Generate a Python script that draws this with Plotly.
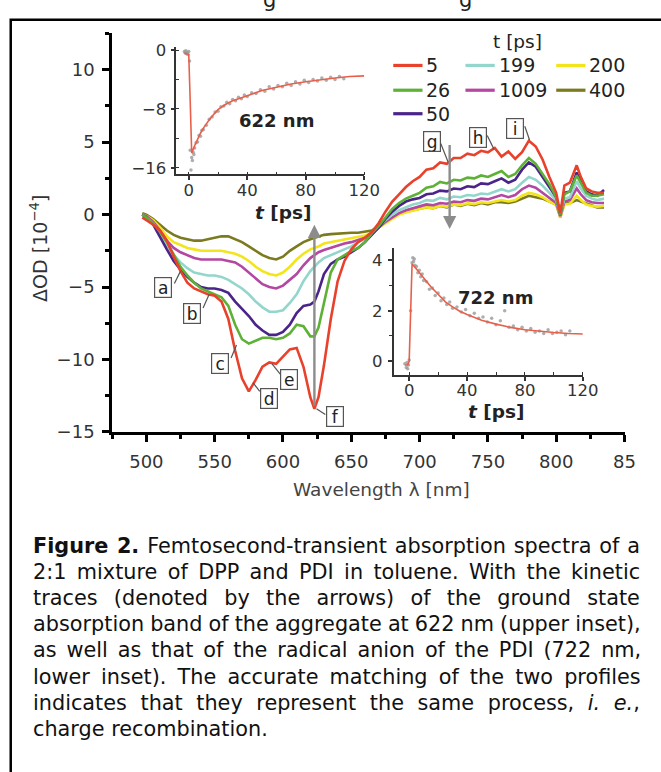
import plotly.graph_objects as go

W, H = 661, 772


def px(x):
    return x / W


def py(y):
    return 1 - y / H


# ---------------- data ----------------
wavelength = [497, 500, 505, 510, 515, 520, 525, 530, 535, 540,
              545, 550, 555, 560, 565, 570, 575, 580, 585, 590,
              595, 600, 605, 610, 615, 620, 623, 626, 630, 635,
              640, 645, 650, 655, 660, 665, 670, 675, 680, 685,
              690, 695, 700, 705, 710, 715, 720, 725, 730, 735,
              740, 745, 750, 755, 760, 765, 770, 775, 780, 785,
              790, 795, 800, 803, 806, 810, 815, 818, 822, 826,
              830, 835]

od_5ps = [-0.2, -0.4, -0.7, -1.1, -1.8, -2.9, -3.9, -4.7, -5.1, -5.3,
          -5.5, -5.6, -6.0, -7.2, -9.4, -11.3, -12.2, -11.4, -10.5, -10.2,
          -10.3, -9.8, -9.3, -9.2, -10.5, -12.6, -13.4, -12.6, -10.4, -7.2,
          -4.6, -3.2, -2.4, -1.9, -1.6, -1.2, -0.6, 0.2, 0.9, 1.4,
          1.9, 2.3, 2.6, 3.1, 3.2, 3.6, 3.5, 3.9, 3.9, 4.2,
          4.1, 4.4, 4.3, 4.6, 4.0, 4.35, 3.85, 4.3, 5.1, 4.7,
          3.8, 2.6, 1.5, 0.1, 2.0, 2.2, 3.4, 2.6, 1.8, 1.6,
          1.5, 1.5]

od_26ps = [0.0, -0.2, -0.6, -1.2, -1.9, -2.8, -3.6, -4.2, -4.7, -5.1,
           -5.3, -5.5, -5.7, -6.3, -7.6, -8.6, -8.9, -8.7, -8.5, -8.5,
           -8.6, -8.5, -8.2, -7.6, -7.7, -8.4, -8.4, -7.8, -6.2, -4.0,
           -3.1, -2.8, -2.5, -2.3, -1.9, -1.3, -0.8, -0.2, 0.4, 0.8,
           1.1, 1.3, 1.5, 1.85, 1.95, 2.25, 2.15, 2.4, 2.35, 2.55,
           2.5, 2.7, 2.6, 2.8, 3.0, 2.6, 2.8, 3.4, 3.9, 3.5,
           2.8, 2.1, 1.2, 0.0, 1.4, 1.6, 2.7, 2.2, 1.5, 1.3,
           1.3, 1.4]

od_50ps = [0.0, -0.2, -0.7, -1.6, -2.4, -3.2, -3.8, -4.3, -4.7, -5.0,
           -5.1, -5.1, -5.2, -5.4, -6.0, -6.5, -7.0, -7.6, -8.0, -8.3,
           -8.3, -8.1, -7.6, -6.8, -6.3, -6.2, -6.0, -5.3, -4.1, -3.4,
           -3.1, -2.9, -2.6, -2.3, -1.9, -1.4, -0.9, -0.3, 0.2, 0.6,
           0.9, 1.05, 1.15, 1.4, 1.45, 1.65, 1.6, 1.8, 1.75, 1.95,
           1.9, 2.15, 2.1, 2.3, 2.5, 2.2, 2.4, 3.1, 3.6, 3.3,
           2.6, 1.9, 1.2, 0.0, 1.5, 1.6, 2.9, 2.3, 1.6, 1.4,
           1.3, 1.7]

od_199ps = [0.0, -0.2, -0.6, -1.3, -2.1, -2.8, -3.3, -3.7, -4.0, -4.1,
            -4.2, -4.2, -4.3, -4.5, -4.8, -5.1, -5.5, -6.0, -6.4, -6.7,
            -6.7, -6.6, -6.1, -5.5, -4.6, -3.9, -3.6, -3.3, -3.0, -2.8,
            -2.6, -2.4, -2.2, -1.9, -1.7, -1.3, -0.8, -0.4, 0.0, 0.3,
            0.5, 0.7, 0.8, 1.0, 0.95, 1.15, 1.05, 1.25, 1.2, 1.35,
            1.3, 1.45, 1.4, 1.6, 1.75, 1.6, 1.75, 2.2, 2.6, 2.4,
            2.0, 1.5, 1.0, 0.0, 1.1, 1.2, 2.3, 1.8, 1.3, 1.1,
            1.0, 1.1]

od_1009ps = [0.0, -0.1, -0.5, -1.1, -1.8, -2.3, -2.6, -2.8, -3.0, -3.1,
             -3.1, -3.1, -3.1, -3.2, -3.3, -3.6, -4.0, -4.4, -4.8, -5.0,
             -5.1, -4.9, -4.5, -4.1, -3.5, -3.0, -2.8, -2.6, -2.45, -2.3,
             -2.1, -2.0, -1.9, -1.75, -1.6, -1.3, -0.9, -0.5, -0.2, 0.1,
             0.3, 0.45, 0.55, 0.7, 0.65, 0.8, 0.75, 0.9, 0.85, 1.0,
             0.95, 1.1, 1.05, 1.2, 1.35, 1.2, 1.35, 1.75, 2.0, 1.85,
             1.5, 1.1, 0.8, -0.1, 0.9, 1.0, 1.8, 1.4, 1.0, 0.85,
             0.8, 0.8]

od_200ps = [0.0, -0.1, -0.4, -0.9, -1.5, -1.9, -2.1, -2.3, -2.4, -2.5,
            -2.5, -2.5, -2.5, -2.6, -2.7, -2.9, -3.2, -3.6, -3.9, -4.1,
            -4.2, -4.0, -3.6, -3.1, -2.7, -2.4, -2.3, -2.2, -2.0, -1.9,
            -1.8, -1.7, -1.6, -1.55, -1.45, -1.25, -0.9, -0.6, -0.3, 0.0,
            0.15, 0.25, 0.35, 0.5, 0.45, 0.6, 0.55, 0.7, 0.65, 0.78,
            0.72, 0.85, 0.8, 0.9, 1.0, 0.9, 1.0, 1.3, 1.5, 1.4,
            1.2, 0.9, 0.7, -0.2, 0.7, 0.75, 1.3, 1.0, 0.7, 0.6,
            0.55, 0.6]

od_400ps = [0.1, 0.0, -0.3, -0.7, -1.1, -1.4, -1.6, -1.7, -1.8, -1.8,
            -1.7, -1.6, -1.5, -1.5, -1.7, -1.9, -2.2, -2.5, -2.8, -3.0,
            -3.1, -2.9, -2.5, -2.2, -1.9, -1.7, -1.6, -1.5, -1.4, -1.35,
            -1.3, -1.25, -1.25, -1.25, -1.2, -1.1, -0.8, -0.5, -0.2, 0.05,
            0.2, 0.3, 0.4, 0.5, 0.45, 0.6, 0.5, 0.7, 0.6, 0.75,
            0.65, 0.8, 0.7, 0.85, 0.85, 0.8, 0.9, 1.1, 1.3, 1.2,
            1.1, 0.9, 0.7, -0.2, 0.8, 0.8, 1.0, 0.9, 0.75, 0.6,
            0.5, 0.5]

delay_labels = ["5", "26", "50", "199", "1009", "200", "400"]
x_tickvals = [500, 550, 600, 650, 700, 750, 800, 850]
x_ticktext = ["500", "550", "600", "650", "700", "750", "800", "85"]

# upper inset (622 nm kinetic): measured points and fit
k622_points = [(-3, -0.2), (-2.5, -0.4), (-2, -0.1), (-1.5, -0.5), (-1, -0.3), (-0.5, -0.6),
               (0, -0.2), (0.5, -1.5), (1, -13.6), (1.5, -16.3), (2, -14.6), (2.5, -15.0),
               (3, -13.9), (3.5, -14.2), (4, -13.3), (5, -12.6), (6, -12.5), (7, -11.6),
               (8, -11.7), (9, -10.9), (10, -10.8), (12, -10.2), (14, -9.4), (16, -9.1),
               (18, -8.4), (20, -8.3), (22, -7.7), (24, -7.6), (26, -7.1), (28, -7.3),
               (30, -6.7), (32, -6.9), (34, -6.4), (36, -6.6), (38, -6.1), (40, -6.3),
               (43, -5.8), (46, -5.9), (49, -5.4), (52, -5.6), (55, -5.0), (58, -5.3),
               (61, -4.8), (64, -5.0), (67, -4.5), (70, -4.8), (73, -4.3), (76, -4.6),
               (79, -4.1), (82, -4.4), (85, -4.0), (88, -4.2), (91, -3.8), (94, -4.1),
               (97, -3.7), (100, -4.0), (103, -3.6), (106, -3.9)]
k622_fit_t = [-3, -1, 0, 1, 2, 4, 6, 8, 10, 15, 20, 25, 30, 35, 40, 50, 60, 70, 80, 90, 100, 110, 120]
k622_fit_v = [-0.4, -0.5, -0.6, -7.0, -14.0, -13.0, -12.1, -11.3, -10.6, -9.2, -8.1, -7.4,
              -6.9, -6.5, -6.2, -5.5, -5.0, -4.6, -4.3, -4.0, -3.8, -3.6, -3.5]

# lower inset (722 nm kinetic)
k722_points = [(-3, -0.1), (-2, -0.25), (-1.5, -0.05), (-1, -0.3), (-0.5, -0.15), (0, 0.05),
               (1, 2.0), (2, 3.9), (2.5, 4.1), (3, 3.95), (3.5, 4.05), (4, 3.8), (5, 3.75),
               (6, 3.5), (7, 3.6), (8, 3.35), (9, 3.45), (10, 3.2), (12, 3.15), (14, 2.85),
               (16, 2.9), (18, 2.6), (20, 2.7), (22, 2.4), (24, 2.5), (26, 2.25), (28, 2.35),
               (30, 2.1), (33, 2.15), (36, 1.95), (39, 2.05), (42, 1.8), (45, 1.9), (48, 1.7),
               (51, 1.75), (54, 1.55), (57, 1.7), (60, 1.45), (63, 1.6), (66, 2.0), (69, 1.35),
               (72, 1.4), (75, 1.25), (78, 1.35), (81, 1.2), (84, 1.3), (87, 1.15), (90, 1.2),
               (93, 1.1), (96, 1.25), (99, 1.1), (102, 1.15), (105, 1.2), (108, 1.05), (111, 1.2)]
k722_fit_t = [-3, -1, 0, 1, 2, 5, 10, 15, 20, 25, 30, 35, 40, 50, 60, 70, 80, 90, 100, 110, 120]
k722_fit_v = [-0.15, -0.15, 0.0, 1.9, 3.85, 3.65, 3.3, 2.95, 2.65, 2.35, 2.15, 1.98, 1.85,
              1.62, 1.47, 1.34, 1.25, 1.19, 1.14, 1.1, 1.08]

# ---------------- figure ----------------
spectra = {"5": od_5ps, "26": od_26ps, "50": od_50ps, "199": od_199ps,
           "1009": od_1009ps, "200": od_200ps, "400": od_400ps}
colors = {"5": "#e8412c", "26": "#5db135", "50": "#4b2489", "199": "#93d6cb",
          "1009": "#b447a2", "200": "#f3e51c", "400": "#7c7a1e"}

FONT = "DejaVu Sans"
fig = go.Figure()

for name in ["400", "200", "1009", "199", "50", "26", "5"]:
    fig.add_trace(go.Scatter(x=wavelength, y=spectra[name], mode="lines",
                             line=dict(color=colors[name], width=2.6),
                             name=name + " ps", xaxis="x", yaxis="y"))

fig.add_trace(go.Scatter(x=[p[0] for p in k622_points], y=[p[1] for p in k622_points],
                         mode="markers", marker=dict(color="#9a9a9a", size=3.5, opacity=0.8),
                         xaxis="x2", yaxis="y2", name="622 nm data"))
fig.add_trace(go.Scatter(x=k622_fit_t, y=k622_fit_v, mode="lines",
                         line=dict(color="#e8604a", width=1.6), xaxis="x2", yaxis="y2",
                         name="622 nm fit"))
fig.add_trace(go.Scatter(x=[p[0] for p in k722_points], y=[p[1] for p in k722_points],
                         mode="markers", marker=dict(color="#9a9a9a", size=3.5, opacity=0.8),
                         xaxis="x3", yaxis="y3", name="722 nm data"))
fig.add_trace(go.Scatter(x=k722_fit_t, y=k722_fit_v, mode="lines",
                         line=dict(color="#e8604a", width=1.6), xaxis="x3", yaxis="y3",
                         name="722 nm fit"))

main_ax = dict(showline=True, linewidth=3, linecolor="black", ticks="outside",
               ticklen=7, tickwidth=3, tickcolor="black", showgrid=False, zeroline=False,
               tickfont=dict(family=FONT, size=18, color="#333"))
inset_ax = dict(showline=True, linewidth=1.5, linecolor="#333", ticks="outside",
                ticklen=4, tickwidth=1.5, tickcolor="#333", showgrid=False, zeroline=False,
                tickfont=dict(family=FONT, size=16.5, color="#333"))

fig.update_layout(
    width=W, height=H, margin=dict(l=0, r=0, t=0, b=0),
    paper_bgcolor="white", plot_bgcolor="rgba(0,0,0,0)",
    font=dict(family=FONT, size=18, color="#333"),
    showlegend=False,
    xaxis=dict(main_ax, domain=[px(115), px(640)], range=[475, 850], anchor="y",
               tickmode="array", tickvals=x_tickvals, ticktext=x_ticktext,
               ticklabelstandoff=4,
               minor=dict(tick0=500, dtick=25, ticks="outside", ticklen=4,
                          tickwidth=2.5, tickcolor="black")),
    yaxis=dict(main_ax, domain=[py(435), py(28)], range=[-15, 12.5], anchor="x",
               tick0=0, dtick=5, ticklabelstandoff=4,
               minor=dict(tick0=0, dtick=2.5, ticks="outside", ticklen=4,
                          tickwidth=2.5, tickcolor="black")),
    xaxis2=dict(inset_ax, domain=[px(180.7), px(373.3)], range=[-8.5, 120], anchor="y2",
                tickvals=[0, 40, 80, 120], ticklabelstandoff=-4,
                minor=dict(tick0=0, dtick=20, ticks="inside", ticklen=3, tickwidth=1.2,
                           tickcolor="#333")),
    yaxis2=dict(inset_ax, domain=[py(172), py(42)], range=[-16.9, 0.4], anchor="x2",
                tickvals=[0, -8, -16], ticklabelstandoff=1,
                minor=dict(tick0=0, dtick=4, ticks="inside", ticklen=3, tickwidth=1.2,
                           tickcolor="#333")),
    xaxis3=dict(inset_ax, domain=[px(403.3), px(597.3)], range=[-10.8, 120], anchor="y3",
                tickvals=[0, 40, 80, 120], ticklabelstandoff=-4,
                minor=dict(tick0=0, dtick=20, ticks="inside", ticklen=3, tickwidth=1.2,
                           tickcolor="#333")),
    yaxis3=dict(inset_ax, domain=[py(376.7), py(246.7)], range=[-0.54, 4.5], anchor="x3",
                tickvals=[0, 2, 4], ticklabelstandoff=2,
                minor=dict(tick0=0, dtick=1, ticks="outside", ticklen=3, tickwidth=1.2,
                           tickcolor="#333")),
)

ann = []
shapes = []


def label(x, y, text, size, color="#222", **kw):
    d = dict(xref="paper", yref="paper", x=px(x), y=py(y), text=text, showarrow=False,
             xanchor="center", yanchor="middle", font=dict(family=FONT, size=size, color=color))
    d.update(kw)
    ann.append(d)


# outer frame
shapes.append(dict(type="rect", xref="paper", yref="paper", x0=px(11), x1=1.3,
                   y0=-0.3, y1=py(14), line=dict(color="black", width=2.5)))

# axis titles
label(391, 494, "Wavelength λ [nm]", 18.5, "#444")
label(40, 248, "ΔOD [10<sup>−4</sup>]", 19, "#333", textangle=-90)

# inset titles and labels
label(290, 211, "<b><i>t</i> [ps]</b>", 18.5)
label(508, 414, "<b><i>t</i> [ps]</b>", 18.5)
label(283, 117, "<b>622 nm</b>", 18)
label(508, 298, "<b>722 nm</b>", 18)

# arrows marking the kinetic wavelengths
ann.append(dict(xref="x", yref="y", axref="x", ayref="y", x=623, y=-0.7, ax=623, ay=-13.3,
                text="", showarrow=True, arrowhead=2, arrowsize=1.1, arrowwidth=2.4,
                arrowcolor="#8c8c8c", standoff=0, startstandoff=0))
ann.append(dict(xref="x", yref="y", axref="x", ayref="y", x=722, y=-1.0, ax=722, ay=4.9,
                text="", showarrow=True, arrowhead=2, arrowsize=1.1, arrowwidth=2.4,
                arrowcolor="#8c8c8c", standoff=0, startstandoff=0))

# boxed peak labels with leader lines
peak_boxes = [
    ("a", 512.5, -5.05, [(520.5, -4.75), (525, -3.9)]),
    ("b", 533.3, -6.8, [(541.5, -6.45), (546, -5.5)]),
    ("c", 553.8, -10.3, [(562, -9.9), (566, -9.0)]),
    ("d", 589.7, -12.7, [(583, -12.2), (578, -11.6)]),
    ("e", 604.6, -11.4, [(598, -11.0), (592, -10.3)]),
    ("f", 638.0, -13.9, [(631, -13.8), (624.5, -13.4)]),
    ("g", 709.0, 5.07, [(715.5, 4.9), (721, 3.6)]),
    ("h", 742.4, 5.29, [(749.5, 5.45), (754.5, 4.5)]),
    ("i", 770.0, 5.97, [(777, 6.1), (780.5, 5.15)]),
]
for lab, bx, by, lead in peak_boxes:
    shapes.append(dict(type="line", xref="x", yref="y", x0=lead[0][0], y0=lead[0][1],
                       x1=lead[1][0], y1=lead[1][1], line=dict(color="#555", width=1.2)))
    ann.append(dict(xref="x", yref="y", x=bx, y=by, text=lab, showarrow=False,
                    xanchor="center", yanchor="middle",
                    font=dict(family=FONT, size=17, color="#222"), bgcolor="white",
                    bordercolor="#555", borderwidth=1.2, borderpad=0, width=16, height=19))

# legend (drawn manually to reproduce the uneven column layout)
legend_cells = [("5", 0, 0), ("199", 0, 1), ("200", 0, 2), ("26", 1, 0), ("1009", 1, 1),
                ("400", 1, 2), ("50", 2, 0)]
col_x = [403, 477, 570]
row_y = [60.7, 86, 110]
for name, r, c in legend_cells:
    shapes.append(dict(type="line", xref="paper", yref="paper", x0=px(col_x[c]),
                       x1=px(col_x[c] + 30), y0=py(row_y[r]), y1=py(row_y[r]),
                       line=dict(color=colors[name], width=3.2)))
    label(col_x[c] + 32, row_y[r], name, 19, xanchor="left")
label(530, 36, "t [ps]", 18.5)

# cut-off heading glyphs at the very top
for gx in (276, 477):
    label(gx, 8, "g", 21, yanchor="bottom")

# caption (justified by word spacing)
REG = {' ': 318, 'a': 613, 'b': 635, 'c': 550, 'd': 635, 'e': 615, 'f': 352, 'g': 635,
       'h': 634, 'i': 278, 'j': 278, 'k': 579, 'l': 278, 'm': 974, 'n': 634, 'o': 612,
       'p': 635, 'q': 635, 'r': 411, 's': 521, 't': 392, 'u': 634, 'v': 592, 'w': 818,
       'x': 592, 'y': 592, 'z': 525, 'D': 770, 'F': 575, 'I': 295, 'P': 603, 'T': 611,
       'W': 989, '.': 318, ',': 318, ':': 337, '(': 390, ')': 390, '-': 361}
for d in "0123456789":
    REG[d] = 636
BOLD = {'F': 683, 'i': 343, 'g': 716, 'u': 712, 'r': 493, 'e': 678, ' ': 348, '2': 696,
        '.': 380}

caption_lines = [
    [("Figure 2.", "b"), (" Femtosecond-transient absorption spectra of a", "")],
    [("2:1 mixture of DPP and PDI in toluene. With the kinetic", "")],
    [("traces (denoted by the arrows) of the ground state", "")],
    [("absorption band of the aggregate at 622 nm (upper inset),", "")],
    [("as well as that of the radical anion of the PDI (722 nm,", "")],
    [("lower inset). The accurate matching of the two profiles", "")],
    [("indicates that they represent the same process, ", ""), ("i. e.", "i"), (",", "")],
    [("charge recombination.", "")],
]
CAP_SIZE = 20.8
CAP_LEFT = 31.7
CAP_RIGHT = 640
CAP_TOP = 551.7
CAP_STEP = 26.6
for i, segs in enumerate(caption_lines):
    width = 0.0
    nsp = 0
    html = ""
    for txt, sty in segs:
        table = BOLD if sty == "b" else REG
        width += sum(table.get(ch, 600) for ch in txt) / 1000 * CAP_SIZE
        nsp += txt.count(" ")
        if sty == "b":
            html += "<b>" + txt + "</b>"
        elif sty == "i":
            html += "<i>" + txt + "</i>"
        else:
            html += txt
    if i < len(caption_lines) - 1 and nsp:
        ws = (CAP_RIGHT - CAP_LEFT - width) / nsp
        html = '<span style="word-spacing:%.2fpx">' % ws + html + "</span>"
    label(CAP_LEFT, CAP_TOP + i * CAP_STEP, html, CAP_SIZE, "#111", xanchor="left")

fig.update_layout(annotations=ann, shapes=shapes)
fig.write_html("out.html")
